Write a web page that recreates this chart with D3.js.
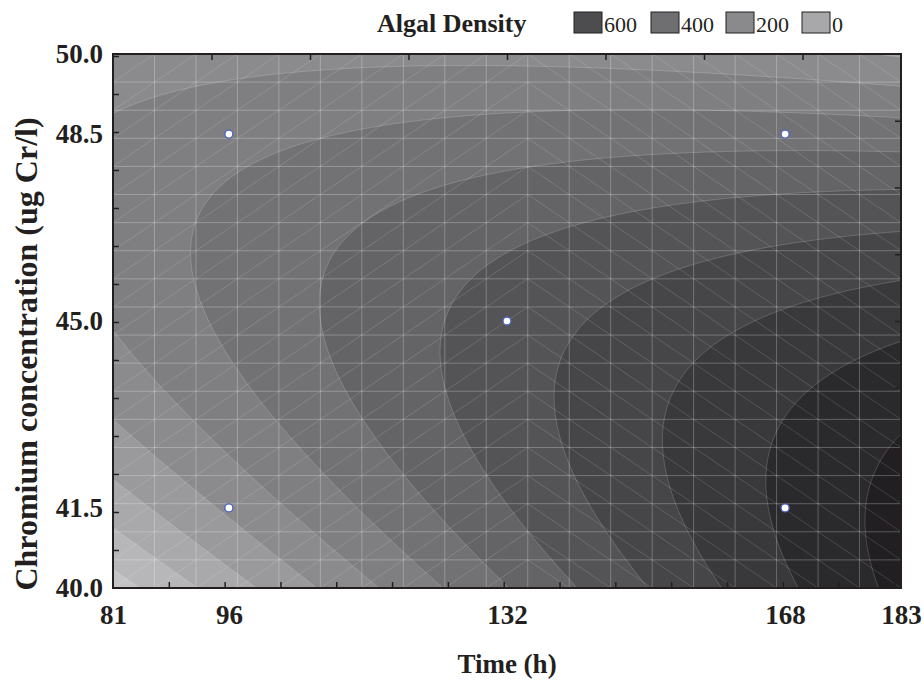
<!DOCTYPE html>
<html>
<head>
<meta charset="utf-8">
<script src="https://cdn.jsdelivr.net/npm/d3@7"></script>
<style>
body { margin: 0; background: #fff; }
svg text { font-family: "Liberation Serif", "Times New Roman", serif; fill: #231f20; }
</style>
</head>
<body>
<svg id="chart" width="924" height="682"></svg>
<script>
// ---- data ----
const timeRange = [81, 183]
const crRange = [40, 50]
const timeLabels = [81, 96, 132, 168, 183]
const crLabels = [40.0, 41.5, 45.0, 48.5, 50.0]

// design points (white dots)
const pointTime = [96, 168, 132, 96, 168]
const pointCr = [48.5, 48.5, 45.0, 41.5, 41.5]

// fitted quadratic surface in coded units u=(t-132)/36, v=(c-45)/3.5
const codeCenter = [132, 45]
const codeStep = [36, 3.5]
const coef = [546, 198.6, -78.6, -28.7, -128, -151.3] // b0, bT, bC, bTT, bCC, bTC

const levels = [-200, -100, 0, 100, 200, 300, 400, 500, 600, 700, 800, 900]
const bandColors = ['#c4c4c6', '#b7b7b9', '#a9a9ab', '#9a9a9c', '#8b8b8d', '#7f7f81', '#727274',
  '#646466', '#545456', '#464648', '#39393b', '#2a292b', '#211f21']

const legendLabels = [600, 400, 200, 0]
const legendColors = ['#4d4d4f', '#6f6f71', '#8a8a8c', '#a8a8aa']

const meshCells = 19     // surface grid used by the plot (20 x 20 nodes)
const meshFlipCol = 10   // diagonals change direction from this column on

// ---- layout ----
const svg = d3.select('#chart')
const plotL = 113, plotR = 901, plotT = 54, plotB = 588
const ink = '#231f20'

const x = d3.scaleLinear().domain(timeRange).range([plotL, plotR])
const y = d3.scaleLinear().domain(crRange).range([plotB, plotT])

function surface(t, c) {
	const u = (t - codeCenter[0]) / codeStep[0]
	const v = (c - codeCenter[1]) / codeStep[1]
	return coef[0] + coef[1] * u + coef[2] * v + coef[3] * u * u + coef[4] * v * v + coef[5] * u * v
}

svg.append('clipPath').attr('id', 'plotclip')
	.append('rect').attr('x', plotL).attr('y', plotT).attr('width', plotR - plotL).attr('height', plotB - plotT)

const plot = svg.append('g').attr('clip-path', 'url(#plotclip)')

// background = lowest band
plot.append('rect')
	.attr('x', plotL).attr('y', plotT).attr('width', plotR - plotL).attr('height', plotB - plotT)
	.attr('fill', bandColors[0])

// sample the surface on a fine grid and contour it
const nx = 320, ny = 220
const values = new Array(nx * ny)
for (let j = 0; j < ny; j++) {
	const c = crRange[1] - (j + 0.5) / ny * (crRange[1] - crRange[0])
	for (let i = 0; i < nx; i++) {
		const t = timeRange[0] + (i + 0.5) / nx * (timeRange[1] - timeRange[0])
		values[j * nx + i] = surface(t, c)
	}
}
const contours = d3.contours().size([nx, ny]).thresholds(levels)(values)

const proj = d3.geoTransform({
	point: function(px, py) {
		this.stream.point(x(timeRange[0] + px / nx * (timeRange[1] - timeRange[0])),
			y(crRange[1] - py / ny * (crRange[1] - crRange[0])))
	}
})
const path = d3.geoPath(proj)

plot.selectAll('path.band')
	.data(contours)
	.join('path')
	.attr('class', 'band')
	.attr('d', path)
	.attr('fill', (d, i) => bandColors[i + 1])
	.attr('stroke', 'rgba(255,255,255,0.22)')
	.attr('stroke-width', 0.8)

// mesh of the surface grid
const tNodes = d3.range(meshCells + 1).map(k => timeRange[0] + k * (timeRange[1] - timeRange[0]) / meshCells)
const cNodes = d3.range(meshCells + 1).map(k => crRange[0] + k * (crRange[1] - crRange[0]) / meshCells)

const mesh = plot.append('g').attr('fill', 'none')
mesh.selectAll('line.v')
	.data(tNodes)
	.join('line')
	.attr('x1', d => x(d)).attr('x2', d => x(d))
	.attr('y1', plotT).attr('y2', plotB)
	.attr('stroke', 'rgba(255,255,255,0.26)').attr('stroke-width', 1)
mesh.selectAll('line.h')
	.data(cNodes)
	.join('line')
	.attr('y1', d => y(d)).attr('y2', d => y(d))
	.attr('x1', plotL).attr('x2', plotR)
	.attr('stroke', 'rgba(255,255,255,0.26)').attr('stroke-width', 1)

const cells = []
for (let i = 0; i < meshCells; i++) {
	for (let j = 0; j < meshCells; j++) cells.push([i, j])
}
mesh.selectAll('line.d')
	.data(cells)
	.join('line')
	.attr('x1', d => x(tNodes[d[0]]))
	.attr('x2', d => x(tNodes[d[0] + 1]))
	.attr('y1', d => d[0] < meshFlipCol ? y(cNodes[d[1]]) : y(cNodes[d[1] + 1]))
	.attr('y2', d => d[0] < meshFlipCol ? y(cNodes[d[1] + 1]) : y(cNodes[d[1]]))
	.attr('stroke', 'rgba(255,255,255,0.18)').attr('stroke-width', 0.8)

// design points
svg.selectAll('circle.pt')
	.data(pointTime.map((t, i) => [t, pointCr[i]]))
	.join('circle')
	.attr('class', 'pt')
	.attr('cx', d => x(d[0])).attr('cy', d => y(d[1]))
	.attr('r', 4)
	.attr('fill', '#fff')
	.attr('stroke', '#4a62c4').attr('stroke-width', 1.3)

// ---- axes ----
const xMinor = d3.range(1, 15).map(k => timeRange[0] + k * 7.225)
const yMinor = d3.range(1, 15).map(k => crRange[0] + k * 0.7116)
const xTop = d3.range(1, 8).map(k => timeRange[0] + k * 12.75)
const yRight = d3.range(1, 8).map(k => crRange[0] + k * 1.25)

function tickStyle(g) {
	g.select('.domain').remove()
	g.selectAll('line').attr('stroke', ink).attr('stroke-width', 1.5)
}
svg.append('g').attr('transform', `translate(0,${plotB})`)
	.call(d3.axisBottom(x).tickValues(xMinor).tickSize(-6).tickFormat(''))
	.call(tickStyle)
svg.append('g').attr('transform', `translate(${plotL},0)`)
	.call(d3.axisLeft(y).tickValues(yMinor).tickSize(-6).tickFormat(''))
	.call(tickStyle)
svg.append('g').attr('transform', `translate(0,${plotT})`)
	.call(d3.axisTop(x).tickValues(xTop).tickSize(-6).tickFormat(''))
	.call(tickStyle)
svg.append('g').attr('transform', `translate(${plotR},0)`)
	.call(d3.axisRight(y).tickValues(yRight).tickSize(-6).tickFormat(''))
	.call(tickStyle)

// tick labels
const xLab = svg.append('g').attr('transform', `translate(0,${plotB})`)
	.call(d3.axisBottom(x).tickValues(timeLabels).tickSize(0).tickPadding(36).tickFormat(d3.format('d')))
xLab.select('.domain').remove()
xLab.selectAll('text').attr('font-size', 27).attr('font-weight', 'bold')
	.attr('font-family', '"Liberation Serif", serif').attr('fill', ink).attr('dy', 0)

const yLab = svg.append('g').attr('transform', `translate(${plotL},0)`)
	.call(d3.axisLeft(y).tickValues(crLabels).tickSize(0).tickPadding(10).tickFormat(d3.format('.1f')))
yLab.select('.domain').remove()
yLab.selectAll('text').attr('font-size', 27).attr('font-weight', 'bold')
	.attr('font-family', '"Liberation Serif", serif').attr('fill', ink)

// frame
svg.append('rect')
	.attr('x', plotL).attr('y', plotT).attr('width', plotR - plotL).attr('height', plotB - plotT)
	.attr('fill', 'none').attr('stroke', ink).attr('stroke-width', 2)

// axis titles
svg.append('text')
	.attr('x', 507).attr('y', 673)
	.attr('text-anchor', 'middle')
	.attr('font-size', 27).attr('font-weight', 'bold')
	.text('Time (h)')
svg.append('text')
	.attr('transform', 'translate(37,354) rotate(-90)')
	.attr('text-anchor', 'middle')
	.attr('font-size', 32).attr('font-weight', 'bold')
	.text('Chromium concentration (ug Cr/l)')

// legend
svg.append('text')
	.attr('x', 377).attr('y', 32)
	.attr('font-size', 26).attr('font-weight', 'bold')
	.text('Algal Density')
const legX = [574, 651, 726, 802]
const leg = svg.selectAll('g.leg')
	.data(legendLabels)
	.join('g')
	.attr('class', 'leg')
	.attr('transform', (d, i) => `translate(${legX[i]},12)`)
leg.append('rect')
	.attr('width', 28).attr('height', 21)
	.attr('fill', (d, i) => legendColors[i])
	.attr('stroke', ink).attr('stroke-width', 1)
leg.append('text')
	.attr('x', 30).attr('y', 20)
	.attr('font-size', 22)
	.text(d => d)
</script>
</body>
</html>
